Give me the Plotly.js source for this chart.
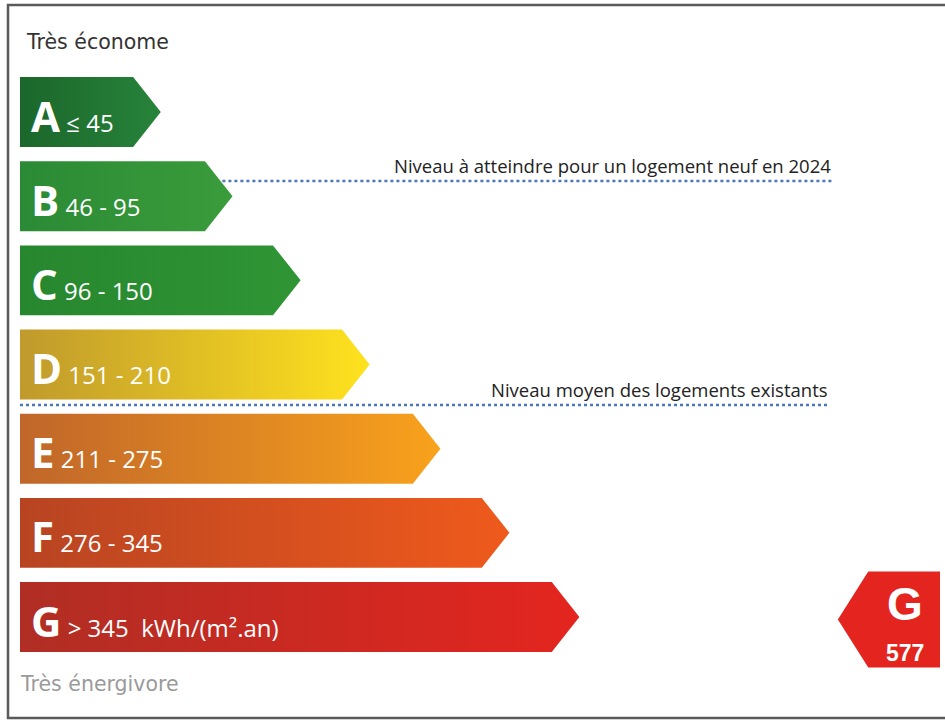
<!DOCTYPE html>
<html>
<head>
<meta charset="utf-8">
<script src="https://cdn.plot.ly/plotly-3.0.1.min.js"></script>
<style>html,body{margin:0;padding:0;background:#fff;}#chart{width:945px;height:722px;}</style>
</head>
<body>
<div id="chart"></div>
<script>
// ---- data ----
const classes = ['A', 'B', 'C', 'D', 'E', 'F', 'G'];
const rangeLabels = ['≤ 45', '46 - 95', '96 - 150', '151 - 210', '211 - 275', '276 - 345', '> 345  kWh/(m².an)'];
const barLength = [12.3, 20.1, 27.5, 35.0, 42.7, 50.2, 57.8];   // relative bar length (scale 0-100)
const colorLeft  = ['#1b672b', '#2b8a35', '#27872f', '#c09a2c', '#c0662a', '#b84422', '#b02e24'];
const colorRight = ['#27833a', '#3a9c3b', '#2f9534', '#ffe21e', '#f9a21c', '#ef5a1c', '#e4251f'];
const refLabels = ['Niveau à atteindre pour un logement neuf en 2024', 'Niveau moyen des logements existants'];
const refLevel = [0.82, 3.48];      // position on the class scale
const refStart = [22.0, 0.0];
const refEnd = [88.4, 88.0];
const currentClass = 'G';
const currentValue = 577;
const topLabel = 'Très économe';
const bottomLabel = 'Très énergivore';

// ---- build ----
const H = 0.415, TIP = 3.0;
const traces = [];
const annotations = [];
classes.forEach((c, i) => {
  const L = barLength[i];
  traces.push({
    type: 'scatter', mode: 'lines', hoverinfo: 'skip', showlegend: false,
    x: [0, L, L + TIP, L, 0, 0],
    y: [i - H, i - H, i, i + H, i + H, i - H],
    fill: 'toself', line: {width: 0, color: colorRight[i]},
    fillcolor: colorRight[i],
    fillgradient: {type: 'horizontal', colorscale: [[0, colorLeft[i]], [1, colorRight[i]]]}
  });
  annotations.push({
    x: 1.0, y: i, xref: 'x', yref: 'y', xanchor: 'left', yanchor: 'middle', showarrow: false, yshift: -3,
    text: '<b style="font-size:42px">' + c + '</b> <span style="font-size:24px">' + rangeLabels[i] + '</span>',
    font: {family: 'Open Sans', color: '#ffffff', size: 24}
  });
});
refLevel.forEach((lv, k) => {
  traces.push({
    type: 'scatter', mode: 'lines', hoverinfo: 'skip', showlegend: false,
    x: [refStart[k], refEnd[k]], y: [lv, lv],
    line: {color: '#4a78b8', width: 2.5, dash: 'dot'}
  });
  annotations.push({
    x: refEnd[k], y: lv, xref: 'x', yref: 'y', xanchor: 'right', yanchor: 'bottom', yshift: 1, showarrow: false,
    text: refLabels[k], font: {family: 'Open Sans', color: '#222222', size: 18.5}
  });
});
// current rating indicator
const ci = classes.indexOf(currentClass) + 0.03;
const IH = 0.57, ITIP = 88.9, IBODY = 92.2, IRIGHT = 100.0;
traces.push({
  type: 'scatter', mode: 'lines', hoverinfo: 'skip', showlegend: false,
  x: [ITIP, IBODY, IRIGHT, IRIGHT, IBODY, ITIP],
  y: [ci, ci - IH, ci - IH, ci + IH, ci + IH, ci],
  fill: 'toself', fillcolor: colorRight[classes.indexOf(currentClass)], line: {width: 0}
});
annotations.push({
  x: (IBODY + IRIGHT) / 2 + 0.1, y: ci - 0.18, xref: 'x', yref: 'y', showarrow: false,
  text: '<b>' + currentClass + '</b>', font: {family: 'Liberation Sans', color: '#fff', size: 46}
});
annotations.push({
  x: (IBODY + IRIGHT) / 2 + 0.1, y: ci + 0.4, xref: 'x', yref: 'y', showarrow: false,
  text: '<b>' + currentValue + '</b>', font: {family: 'Liberation Sans', color: '#fff', size: 23}
});
annotations.push({
  x: 24 / 945, y: 1 - 42 / 722, xref: 'paper', yref: 'paper', xanchor: 'left', yanchor: 'middle', showarrow: false,
  text: topLabel, font: {family: 'DejaVu Sans', color: '#333333', size: 20.5}
});
annotations.push({
  x: 18 / 945, y: 1 - 684 / 722, xref: 'paper', yref: 'paper', xanchor: 'left', yanchor: 'middle', showarrow: false,
  text: bottomLabel, font: {family: 'DejaVu Sans', color: '#9a9a9a', size: 20.5}
});

const layout = {
  width: 945, height: 722,
  margin: {l: 0, r: 0, t: 0, b: 0},
  paper_bgcolor: '#ffffff', plot_bgcolor: '#ffffff',
  showlegend: false,
  xaxis: {range: [-2.174, 100.543], visible: false, fixedrange: true},
  yaxis: {range: [7.247, -1.331], visible: false, fixedrange: true},
  annotations: annotations,
  shapes: [{
    type: 'rect', xref: 'paper', yref: 'paper',
    x0: 8 / 945, x1: 1.02, y0: 1 - 718 / 722, y1: 1 - 5 / 722,
    line: {color: '#5a5a5a', width: 2.5}, fillcolor: 'rgba(0,0,0,0)'
  }]
};
Plotly.newPlot('chart', traces, layout, {displayModeBar: false, staticPlot: true});
</script>
</body>
</html>
